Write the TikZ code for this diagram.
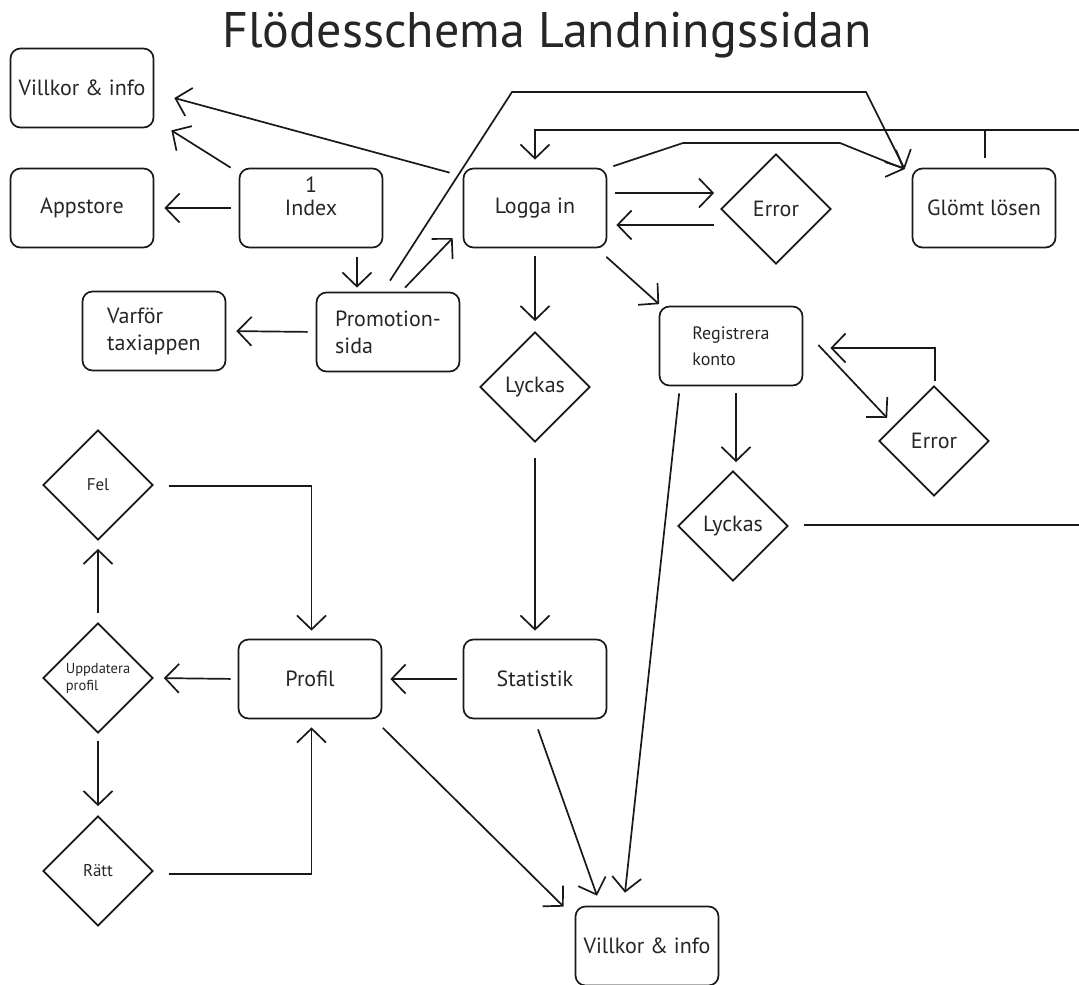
\documentclass[tikz,border=0pt]{standalone}
\usepackage{fontspec}
\setmainfont{PT Sans}
\usetikzlibrary{arrows.meta,shapes.geometric,calc}

\tikzset{
  every node/.style={text=black!85},
  box/.style={draw=black!90, line width=1.7pt, rounded corners=10pt,
    minimum width=143pt, minimum height=79pt, inner sep=0pt,
    font=\fontsize{22}{27}\selectfont},
  choice/.style={draw=black!90, line width=1.7pt, diamond, aspect=1,
    minimum width=110pt, minimum height=110pt, inner sep=0pt,
    font=\fontsize{22}{26}\selectfont},
  link/.style={draw=black!90, line width=1.7pt,
    -{Straight Barb[length=14pt,width=29pt]}},
  plain/.style={draw=black!90, line width=1.7pt}
}

\begin{document}
\begin{tikzpicture}[x=1pt,y=-1pt]
\useasboundingbox (0,0) rectangle (1079,985);
\fill[white] (0,0) rectangle (1079,985);

% title
\node (title) at (547,35) {\fontsize{50}{54}\selectfont Flödesschema Landningssidan};

% pages
\node[box] (vi1)  at (82,88)    {Villkor \& info};
\node[box] (app)  at (82,208)   {Appstore};
\node[box] (idx)  at (311,208)  {};
\node[align=center, font=\fontsize{22}{23}\selectfont] (idxt) at ($(idx)+(0,-12)$) {1\\Index};
\node[box] (log)  at (535,208)  {Logga in};
\node[box] (glo)  at (984,208)  {Glömt lösen};
\node[box, align=left] (pro) at (388,332) {Promotion-\\sida};
\node[box, align=left] (var) at (154,331) {Varför\\taxiappen};
\node[box, align=left, font=\fontsize{18}{26}\selectfont] (reg) at (731,346) {Registrera\\konto};
\node[box] (prof) at (310,679)  {Profil};
\node[box] (stat) at (535,679)  {Statistik};
\node[box] (vi2)  at (647,946)  {Villkor \& info};

% decisions
\node[choice] (err1) at (776,209) {Error};
\node[choice] (ly1)  at (535,387) {Lyckas};
\node[choice] (err2) at (934,441) {Error};
\node[choice] (ly2)  at (733,526) {Lyckas};
\node[choice, font=\fontsize{17}{20}\selectfont] (fel) at (98,485) {Fel};
\node[choice, align=left, font=\fontsize{14.5}{17}\selectfont] (upd) at (98,678) {Uppdatera\\profil};
\node[choice, font=\fontsize{17}{20}\selectfont] (rat) at (98,871) {Rätt};

% loose ends at the right border
\coordinate (outA) at (1079,525);
\coordinate (outB) at (1079,130);

% connectors: top row
\draw[link] ($(idx.north west)+(-8,0)$) -- ($(vi1.south east)+(17,2)$);
\draw[link] ($(log.north west)+(-13,5)$) -- ($(vi1.east)+(20,10)$);
\draw[link, shorten <=8pt, shorten >=10pt] (idx.west) -- (app.east);
\draw[link] ($(idx.south)+(46,9)$) -- ($(pro.north)+(-31,-4)$);
\draw[link] ($(pro.north)+(17,-4)$) -- ($(log.west)+(-10,30)$);
\draw[link] ($(pro.north)+(2,-11)$) -- (512,92) -- (866,92) -- ($(glo.north west)+(-7,1.5)$);
\draw[link] ($(log.north east)+(6,-1.5)$) -- (683,143) -- (840,143) -- ($(glo.north west)+(-7,1.5)$);
\draw[link, shorten <=8pt, shorten >=10pt] (pro.west) -- (var.east);
\draw[link] ($(log.east)+(8,-15)$) -- ($(err1.west)+(-6,-16)$);
\draw[link] ($(err1.west)+(-6,16)$) -- ($(log.east)+(9,17)$);

% return line from the registration success back to login
\draw[plain] ($(ly2.east)+(15,-1)$) -- (outA);
\draw[link] (outB) -- (535,130) -- ($(log.north)+(0,-8)$);
\draw[plain] ($(glo.north)+(1,-10)$) -- (985,130);

% login branches
\draw[link, shorten <=8pt, shorten >=10pt] (log.south) -- (ly1.north);
\draw[link] ($(log.south east)+(-1,8.5)$) -- ($(reg.north west)+(0.5,-1.5)$);
\draw[link] ($(reg.east)+(15,-1)$) -- ($(err2.west)+(9,-23)$);
\draw[link] ($(err2.north)+(1,-4)$) -- (935,348) -- ($(reg.east)+(27,2)$);
\draw[link] ($(reg.south)+(5,7)$) -- ($(ly2.north)+(3,-8)$);
\draw[link] ($(reg.south west)+(20.5,7)$) -- ($(vi2.north)+(-22,-13)$);
\draw[link] ($(ly1.south)+(0,15)$) -- ($(stat.north)+(0,-8)$);

% lower part
\draw[link, shorten <=6pt, shorten >=8pt] (stat.west) -- (prof.east);
\draw[link] ($(stat.south)+(3,10)$) -- ($(vi2.north)+(-50,-10)$);
\draw[link] ($(prof.south east)+(0.5,8.5)$) -- ($(vi2.north west)+(-11,1)$);
\draw[link, shorten <=7pt, shorten >=10pt] (prof.west) -- (upd.east);
\draw[link] ($(upd.north)+(0,-9)$) -- ($(fel.south)+(0,8)$);
\draw[link] ($(upd.south)+(0,7)$) -- ($(rat.north)+(0,-9)$);
\draw[link] ($(fel.east)+(15,1)$) -| ($(prof.north)+(1.5,-8)$);
\draw[link] ($(rat.east)+(15,3)$) -| ($(prof.south)+(1.5,8)$);
\end{tikzpicture}
\end{document}
